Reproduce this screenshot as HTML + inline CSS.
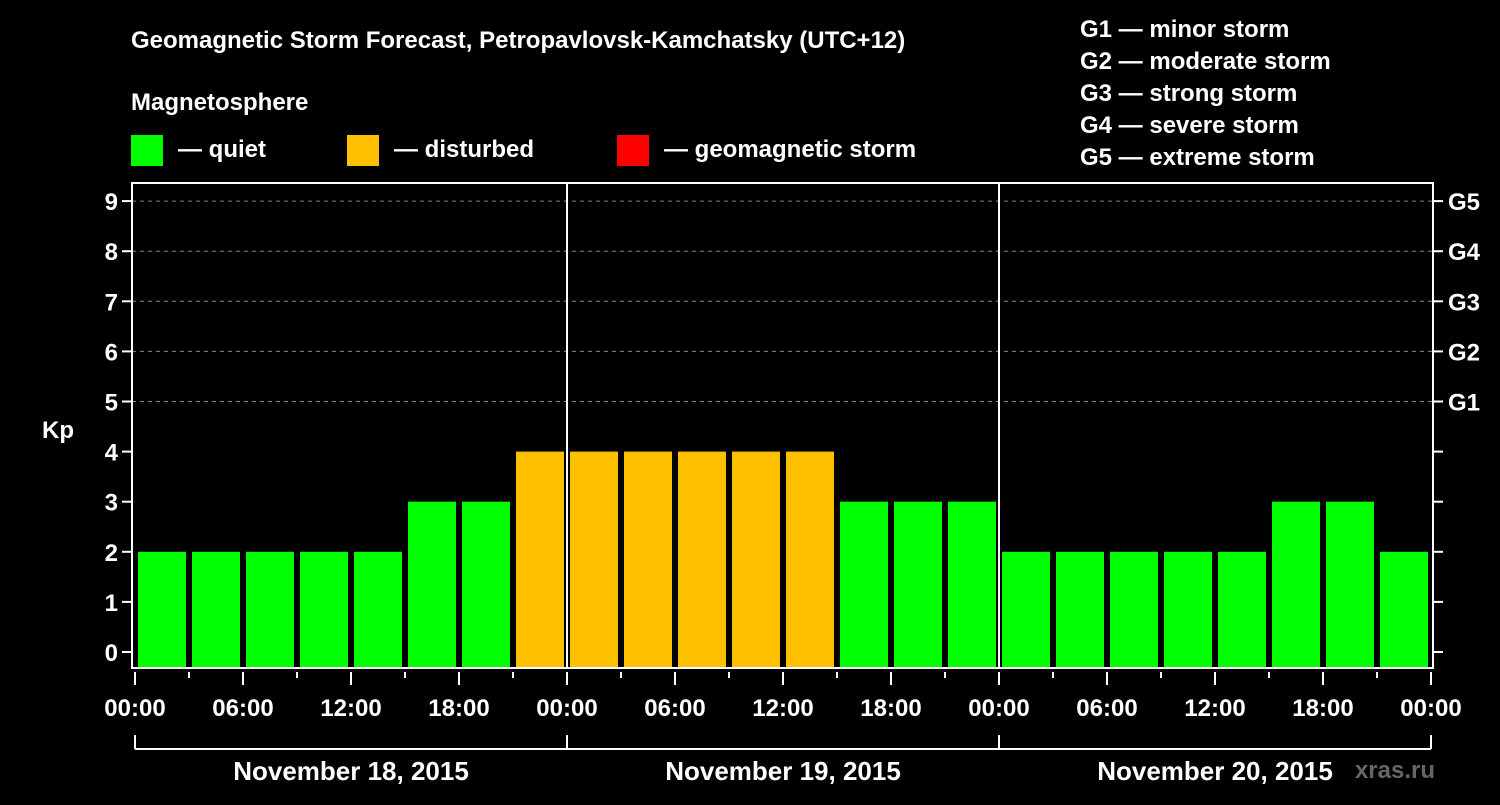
<!DOCTYPE html>
<html><head><meta charset="utf-8"><style>
body{margin:0;background:#000;}
svg text{font-family:"Liberation Sans",Arial,sans-serif;font-weight:bold;fill:#fff;}
</style></head><body>
<svg id="c" width="1500" height="800" xmlns="http://www.w3.org/2000/svg">
<rect width="1500" height="800" fill="#000"/>
<text x="131" y="48" font-size="24">Geomagnetic Storm Forecast, Petropavlovsk-Kamchatsky (UTC+12)</text>
<text x="131" y="110" font-size="24">Magnetosphere</text>
<g><rect x="131" y="135" width="32" height="31" fill="#00ff00"/><text x="178" y="157" font-size="24">— quiet</text></g>
<g><rect x="347" y="135" width="32" height="31" fill="#ffc000"/><text x="394" y="157" font-size="24">— disturbed</text></g>
<g><rect x="617" y="135" width="32" height="31" fill="#ff0000"/><text x="664" y="157" font-size="24">— geomagnetic storm</text></g>
<g font-size="24">
<text x="1080" y="37">G1 — minor storm</text>
<text x="1080" y="69">G2 — moderate storm</text>
<text x="1080" y="101">G3 — strong storm</text>
<text x="1080" y="133">G4 — severe storm</text>
<text x="1080" y="165">G5 — extreme storm</text>
</g>
<text x="42" y="438" font-size="24">Kp</text>
<text x="1435" y="778" font-size="24" fill="#666" style="fill:#666" text-anchor="end">xras.ru</text>
<g id="plot"></g>
</svg>
<script>
const kpValues=[2,2,2,2,2,3,3,4, 4,4,4,4,4,3,3,3, 2,2,2,2,2,3,3,2];
const yTicks=[0,1,2,3,4,5,6,7,8,9];
const gLabels=["G1","G2","G3","G4","G5"];
const hourLabels=["00:00","06:00","12:00","18:00"];
const dayLabels=["November 18, 2015","November 19, 2015","November 20, 2015"];
const NS="http://www.w3.org/2000/svg";
const g=document.getElementById('plot');
const L=132,R=1433,T=183,B=668,X0=135,X1=1431;
const y=v=>652-v*50.1;
const x=h=>X0+(X1-X0)*h/72;
function el(t,a,p){const e=document.createElementNS(NS,t);for(const k in a)e.setAttribute(k,a[k]);(p||g).appendChild(e);return e;}
function color(v){return v>=5?"#ff0000":v>=4?"#ffc000":"#00ff00";}
yTicks.forEach(v=>{
  if(v>=5){const l=el('line',{x1:L,x2:R,y1:y(v),y2:y(v),stroke:'#888','stroke-dasharray':'4,4','stroke-width':1});
  }
  const t=el('line',{x1:L-10,x2:L,y1:y(v),y2:y(v),stroke:'#fff','stroke-width':2});
  
  const t2=el('line',{x1:R,x2:R+10,y1:y(v),y2:y(v),stroke:'#fff','stroke-width':2});
  
  const tx=el('text',{x:L-14,y:y(v)+9,'font-size':24,'text-anchor':'end'});tx.textContent=v;
  
});
gLabels.forEach((s,i)=>{const tx=el('text',{x:1448,y:y(5+i)+9,'font-size':24});tx.textContent=s;
  });
kpValues.forEach((v,i)=>{const x0=x(i*3)+3,w=x(i*3+3)-x(i*3)-6;
  const r=el('rect',{x:x0,y:y(v),width:w,height:B-y(v),fill:color(v)});
  });
const fr=el('rect',{x:L,y:T,width:R-L,height:B-T,fill:'none',stroke:'#fff','stroke-width':2});

[1,2].forEach(d=>{const l=el('line',{x1:x(d*24),x2:x(d*24),y1:T,y2:B,stroke:'#fff','stroke-width':2});
  });
for(let h=0;h<=72;h+=3){const major=h%6===0;
  const t=el('line',{x1:x(h),x2:x(h),y1:672,y2:major?685:678,stroke:'#fff','stroke-width':2});
  
  if(major){const tx=el('text',{x:x(h),y:716,'font-size':24,'text-anchor':'middle'});
    tx.textContent=hourLabels[(h/6)%4];
    }
}
const br=el('line',{x1:X0,x2:X1,y1:749,y2:749,stroke:'#fff','stroke-width':2});

for(let d=0;d<=3;d++){const t=el('line',{x1:x(d*24),x2:x(d*24),y1:735,y2:749,stroke:'#fff','stroke-width':2});
  }
dayLabels.forEach((s,d)=>{const tx=el('text',{x:x(d*24+12),y:780,'font-size':26,'text-anchor':'middle'});tx.textContent=s;
  });
</script>
</body></html>
